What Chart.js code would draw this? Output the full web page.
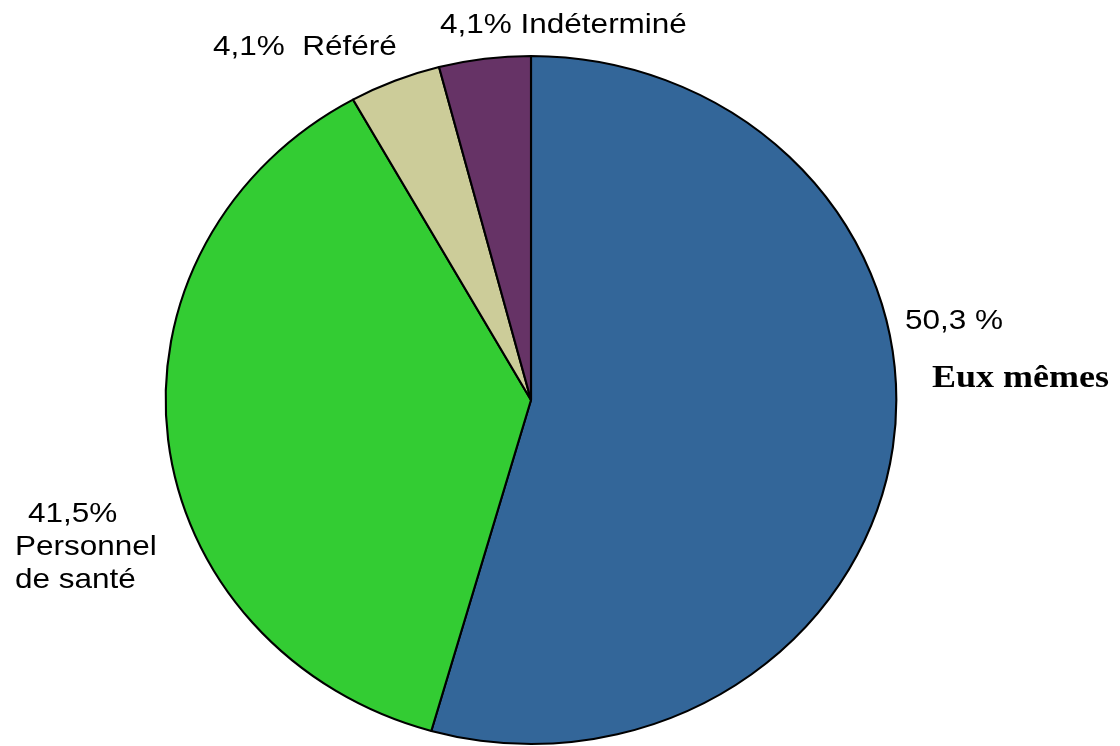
<!DOCTYPE html>
<html>
<head>
<meta charset="utf-8">
<script src="https://cdn.jsdelivr.net/npm/chart.js@4/dist/chart.umd.min.js"></script>
<style>
    body { margin: 0; background: #ffffff; }
    #cadre { width: 1120px; height: 746px; }
</style>
</head>
<body>
<div id="cadre"><canvas id="pieChart" width="1120" height="746"></canvas></div>
<script>
// données (angles des parts)
var categories = ['Eux mêmes', 'Personnel de santé', 'Référé', 'Indéterminé'];
var valeurs = [54.4, 37.5, 4.05, 4.05];
var pourcentages = ['50,3 %', '41,5%', '4,1%', '4,1%'];
var couleurs = ['#336699', '#33cc33', '#cccc99', '#663366'];

// le camembert de l'original est un peu ovale
var etirement = {
    id: 'etirement',
    beforeDatasetsDraw: function (chart) {
        var arc = chart.getDatasetMeta(0).data[0];
        var ctx = chart.ctx;
        ctx.save();
        ctx.translate(arc.x, arc.y);
        ctx.scale(1.062, 1);
        ctx.translate(-arc.x, -arc.y);
    },
    afterDatasetsDraw: function (chart) {
        chart.ctx.restore();
    }
};

function ecrire(ctx, texte, x, y, police) {
    ctx.save();
    ctx.translate(x, y);
    ctx.scale(1.125, 1);
    ctx.font = police;
    ctx.fillStyle = '#000000';
    ctx.textBaseline = 'alphabetic';
    ctx.textAlign = 'left';
    ctx.fillText(texte, 0, 0);
    ctx.restore();
}

var etiquettes = {
    id: 'etiquettes',
    afterDraw: function (chart) {
        var ctx = chart.ctx;
        var sans = '28px "Liberation Sans", Arial, sans-serif';
        var serif = 'bold 32px "Liberation Serif", "Times New Roman", serif';
        ecrire(ctx, pourcentages[3] + ' ' + categories[3], 440, 33, sans);
        ecrire(ctx, pourcentages[2] + '  ' + categories[2], 213, 55, sans);
        ecrire(ctx, pourcentages[0], 905, 329, sans);
        ecrire(ctx, categories[0], 932, 387, serif);
        ecrire(ctx, pourcentages[1], 28, 522, sans);
        ecrire(ctx, 'Personnel', 15, 555, sans);
        ecrire(ctx, 'de santé', 15, 588, sans);
    }
};

var ctx = document.getElementById('pieChart');
var pieChart = new Chart(ctx, {
    type: 'pie',
    data: {
        labels: categories,
        datasets: [{
            data: valeurs,
            backgroundColor: couleurs,
            borderColor: '#000000',
            borderWidth: 2
        }]
    },
    options: {
        responsive: false,
        animation: false,
        layout: {
            padding: { left: 186, right: 244, top: 54, bottom: 0 }
        },
        plugins: {
            legend: { display: false },
            tooltip: { enabled: false }
        }
    },
    plugins: [etirement, etiquettes]
});
</script>
</body>
</html>
